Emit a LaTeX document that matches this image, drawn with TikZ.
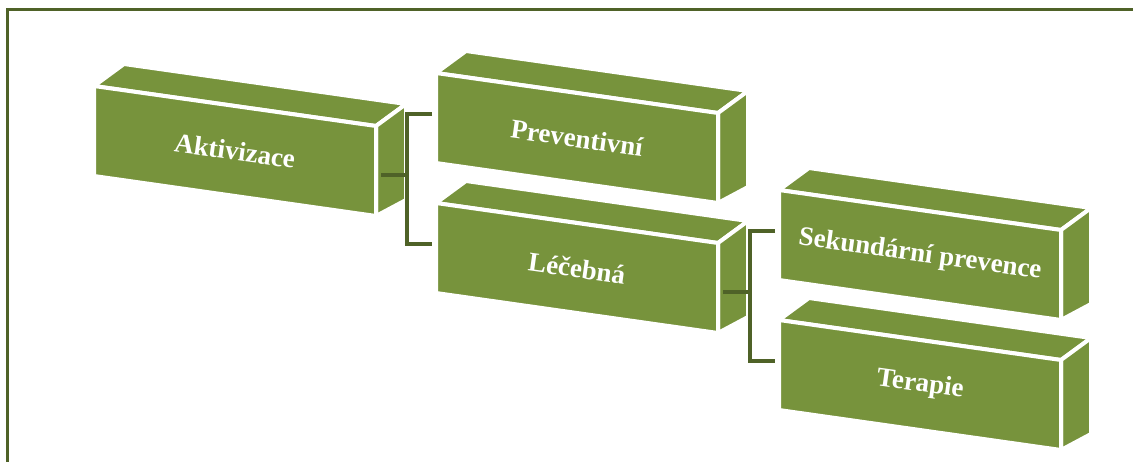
\documentclass[tikz,border=0pt]{standalone}
\usepackage{fontspec}
\setmainfont{Liberation Serif}
\definecolor{boxgreen}{HTML}{77933C}
\definecolor{darkolive}{HTML}{4F6228}
\tikzset{
  face/.style={fill=boxgreen, draw=white, line width=4pt, line join=miter},
  lbl/.style={text=white, font=\bfseries\fontsize{27}{30}\selectfont, rotate=-8, inner sep=0pt},
  bracket/.style={draw=darkolive, line width=3.5pt, line join=miter},
  frame/.style={draw=darkolive, line width=3pt}
}
% 3D block: name, x, y of front top-left corner, label
\newcommand\prismbox[4]{%
  \begin{scope}[shift={(#2,#3)}]
    \path[face] (0,0) -- (30,-22) -- (312,18) -- (282,40) -- cycle;
    \path[face] (282,40) -- (312,18) -- (312,114) -- (282,130) -- cycle;
    \path[face] (0,0) -- (282,40) -- (282,130) -- (0,90) -- cycle;
    \node[lbl] (#1) at (141,65) {#4};
    \coordinate (#1-l) at (-4,41);
    \coordinate (#1-r) at (287,89);
  \end{scope}}
\begin{document}
\begin{tikzpicture}[x=1pt, y=-1pt]
  \useasboundingbox (0,0) rectangle (1133,461);
  \begin{scope}
    \clip (0,0) rectangle (1133,461);
    \fill[white] (0,0) rectangle (1133,461);
    \draw[frame] (7.5,9) rectangle (1150,480);
  \end{scope}

  \prismbox{akt}{94}{86}{Aktivizace}
  \prismbox{prev}{436}{73}{Preventivní}
  \prismbox{lec}{436}{203}{Léčebná}
  \prismbox{sek}{779}{190}{Sekundární prevence}
  \prismbox{ter}{779}{320}{Terapie}

  % brackets joining each block to its two sub-blocks
  \path (akt-r) ++(26,0) coordinate (j1);
  \draw[bracket] (akt-r) -- (j1);
  \draw[bracket] (prev-l) -| (j1) |- (lec-l);

  \path (lec-r) ++(27,0) coordinate (j2);
  \draw[bracket] (lec-r) -- (j2);
  \draw[bracket] (sek-l) -| (j2) |- (ter-l);
\end{tikzpicture}
\end{document}
